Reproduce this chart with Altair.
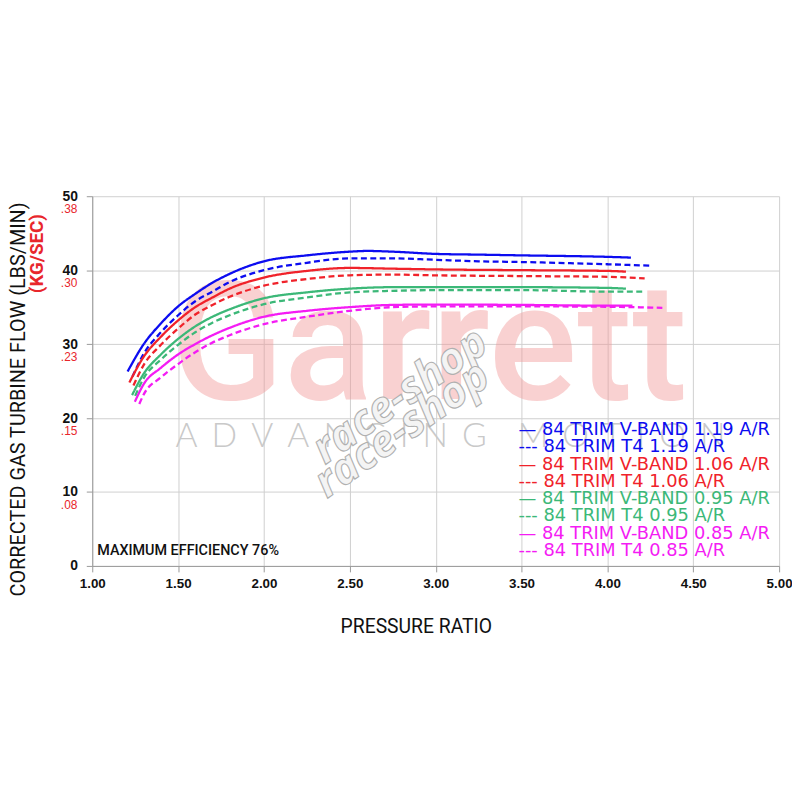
import altair as alt
import pandas as pd

SERIES = [
    "84 TRIM V-BAND 1.19 A/R", "84 TRIM T4 1.19 A/R",
    "84 TRIM V-BAND 1.06 A/R", "84 TRIM T4 1.06 A/R",
    "84 TRIM V-BAND 0.95 A/R", "84 TRIM T4 0.95 A/R",
    "84 TRIM V-BAND 0.85 A/R", "84 TRIM T4 0.85 A/R",
]
COLORS = ["#0c0cf0", "#0c0cf0", "#f0222a", "#f0222a",
          "#3cb878", "#3cb878", "#f41cf4", "#f41cf4"]
DASHED = [False, True, False, True, False, True, False, True]

PR_1 = [1.206, 1.3, 1.4, 1.5, 1.6, 1.7, 1.8, 2.0, 2.25, 2.5, 2.6, 2.75, 3.0, 3.25, 3.5, 4.0, 4.137]
FLOW_1 = [26.3, 30.0, 32.8, 35.1, 36.8, 38.3, 39.5, 41.2, 42.0, 42.5, 42.6, 42.5, 42.2, 42.1, 42.0, 41.8, 41.7]
PR_2 = [1.234, 1.3, 1.4, 1.5, 1.6, 1.7, 1.8, 2.0, 2.25, 2.5, 2.75, 3.0, 3.25, 3.5, 4.0, 4.258]
FLOW_2 = [25.6, 28.7, 31.6, 33.9, 35.8, 37.1, 38.4, 40.0, 41.0, 41.6, 41.6, 41.4, 41.2, 41.1, 40.8, 40.6]
PR_3 = [1.216, 1.3, 1.4, 1.5, 1.6, 1.7, 1.8, 2.0, 2.25, 2.5, 2.75, 3.0, 3.5, 4.0, 4.108]
FLOW_3 = [24.8, 28.3, 31.0, 33.2, 35.0, 36.3, 37.5, 39.0, 39.9, 40.3, 40.2, 40.1, 40.0, 39.9, 39.8]
PR_4 = [1.24, 1.3, 1.4, 1.5, 1.6, 1.7, 1.8, 2.0, 2.25, 2.5, 2.75, 3.0, 3.5, 4.0, 4.217]
FLOW_4 = [24.4, 27.2, 29.9, 32.1, 34.0, 35.3, 36.4, 37.9, 38.8, 39.3, 39.4, 39.3, 39.2, 39.1, 38.9]
PR_5 = [1.232, 1.3, 1.4, 1.5, 1.6, 1.7, 1.8, 2.0, 2.25, 2.5, 2.75, 3.0, 3.5, 4.0, 4.108]
FLOW_5 = [23.1, 26.0, 28.6, 30.7, 32.4, 33.7, 34.7, 36.2, 37.0, 37.5, 37.7, 37.7, 37.7, 37.6, 37.5]
PR_6 = [1.25, 1.3, 1.4, 1.5, 1.6, 1.7, 1.8, 2.0, 2.25, 2.5, 2.75, 3.0, 3.5, 4.0, 4.214]
FLOW_6 = [23.0, 25.4, 27.9, 29.9, 31.6, 32.9, 33.9, 35.4, 36.3, 37.0, 37.2, 37.3, 37.3, 37.1, 37.1]
PR_7 = [1.248, 1.3, 1.4, 1.5, 1.6, 1.7, 1.8, 2.0, 2.25, 2.5, 2.75, 3.0, 3.5, 4.0, 4.146]
FLOW_7 = [22.2, 24.6, 26.8, 28.6, 30.0, 31.2, 32.2, 33.7, 34.5, 35.0, 35.3, 35.35, 35.3, 35.2, 35.2]
PR_8 = [1.274, 1.3, 1.4, 1.5, 1.6, 1.7, 1.8, 2.0, 2.25, 2.5, 2.75, 3.0, 3.5, 4.0, 4.32]
FLOW_8 = [21.9, 23.2, 25.5, 27.3, 28.9, 30.2, 31.2, 32.7, 33.7, 34.5, 35.0, 35.1, 35.1, 35.05, 34.9]

X_TICKS = [1.0, 1.5, 2.0, 2.5, 3.0, 3.5, 4.0, 4.5, 5.0]
Y_TICKS = [0, 10, 20, 30, 40, 50]
KG_AT = [50, 40, 30, 20, 10]
KG_LABELS = [".38", ".30", ".23", ".15", ".08"]

PRS = [PR_1, PR_2, PR_3, PR_4, PR_5, PR_6, PR_7, PR_8]
FLOWS = [FLOW_1, FLOW_2, FLOW_3, FLOW_4, FLOW_5, FLOW_6, FLOW_7, FLOW_8]

rows = []
for name, prs, flows in zip(SERIES, PRS, FLOWS):
    for p, f in zip(prs, flows):
        rows.append({"series": name, "pr": p, "flow": f})
df = pd.DataFrame(rows)

W, H = 693, 373
xscale = alt.Scale(domain=[1, 5], nice=False, zero=False)
yscale = alt.Scale(domain=[0, 50], nice=False)

one = pd.DataFrame({"k": [0]})


def label(text, x, y, **kw):
    return alt.Chart(one).mark_text(text=text, **kw).encode(x=alt.value(x), y=alt.value(y))


garrett = label("Garrett", 340, 205, font="Roboto", fontSize=167, fontWeight=500,
                align="center", baseline="alphabetic", color="#f29494", opacity=0.42)
sp = "\u2005\u2006"
adv = label(sp.join("ADVANCING") + "\u2002\u2005\u2006" + sp.join("MOTION"), 84, 243,
            font="Lato", fontSize=34, fontWeight=300, align="left", baseline="middle",
            color="#c9c9c9")
race1 = label("race-shop", 311, 202, font="Open Sans", fontSize=44, fontWeight="bold",
              fontStyle="italic", angle=325, align="center", baseline="middle",
              fill="#f4f4f4", stroke="#b0b0b0", strokeWidth=1.1)
race2 = label("race-shop", 313, 236, font="Open Sans", fontSize=44, fontWeight="bold",
              fontStyle="italic", angle=325, align="center", baseline="middle",
              fill="#f4f4f4", stroke="#b0b0b0", strokeWidth=1.1)

lines = alt.Chart(df).mark_line(strokeWidth=2.3, interpolate="monotone").encode(
    x=alt.X("pr:Q", scale=xscale,
            axis=alt.Axis(values=X_TICKS, format=".2f", title=None, labelFont="Liberation Sans",
                          labelFontWeight="bold", labelFontSize=13.5, labelColor="#111",
                          labelFlush=False, labelOverlap=False, tickSize=6, labelPadding=5,
                          tickColor="#999", domainColor="#999", gridColor="#cfcfcf")),
    y=alt.Y("flow:Q", scale=yscale,
            axis=alt.Axis(values=Y_TICKS, title=None, labelFont="Liberation Sans",
                          labelFontWeight="bold", labelFontSize=14, labelColor="#111",
                          labelOverlap=False, tickSize=6, labelPadding=9,
                          tickColor="#999", domainColor="#999", gridColor="#cfcfcf")),
    color=alt.Color("series:N", scale=alt.Scale(domain=SERIES, range=COLORS), legend=None),
    strokeDash=alt.StrokeDash("series:N",
                              scale=alt.Scale(domain=SERIES,
                                              range=[[6, 3.5] if d else [1, 0] for d in DASHED]),
                              legend=None),
)

kg = alt.Chart(pd.DataFrame({"lbs": KG_AT, "kg": KG_LABELS})).mark_text(
    align="right", baseline="middle", dy=13, font="Liberation Sans", fontSize=12, color="#e8262c"
).encode(x=alt.value(-15), y=alt.Y("lbs:Q", scale=yscale), text="kg:N")

ytitle = label("CORRECTED GAS TURBINE FLOW (LBS/MIN)", -74, 205, font="Roboto", fontSize=20,
               angle=270, align="center", baseline="middle", color="#111")
ytitle2 = label("(KG/SEC)", -56, 58, font="Roboto", fontSize=19, fontWeight="bold",
                angle=270, align="center", baseline="middle", color="#e8262c")
xtitle = label("PRESSURE RATIO", 327, 435, font="Roboto", fontSize=19.5, align="center",
               baseline="middle", color="#111")
eff = label("MAXIMUM EFFICIENCY 76%", 5, 358, font="Roboto", fontSize=14.5, fontWeight=500,
            align="left", baseline="middle", color="#111")

legend_layers = []
for i, (name, col, d) in enumerate(zip(SERIES, COLORS, DASHED)):
    sym = "---" if d else "\u2014"
    legend_layers.append(label(f"{sym} {name}", 430, 236 + 17.4 * i, font="DejaVu Sans",
                               fontSize=18, align="left", baseline="middle", color=col))

chart = alt.layer(garrett, adv, race1, race2, lines, kg, ytitle, ytitle2, xtitle, eff,
                  *legend_layers).properties(
    width=W, height=H,
    autosize=alt.AutoSizeParams(type="none"),
    padding={"left": 85, "top": 187, "right": 13, "bottom": 90},
).configure_view(strokeWidth=0)

chart.save("out.html", embed_options={"renderer": "svg", "actions": False})
